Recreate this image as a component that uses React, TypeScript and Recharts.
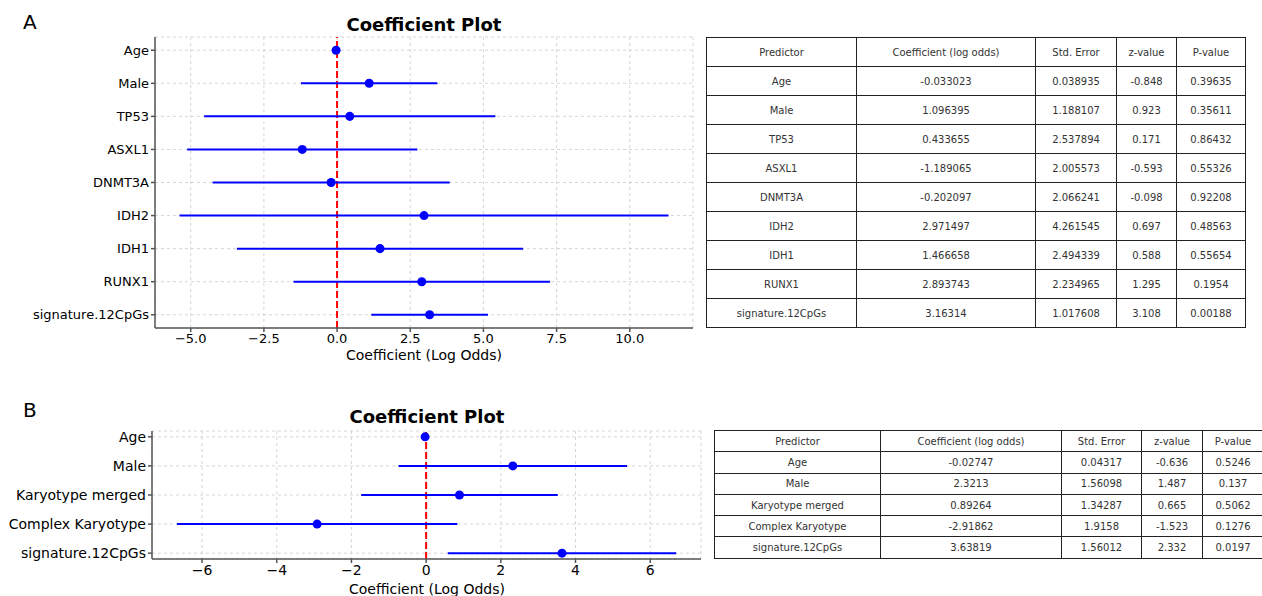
import React from 'react';
import { ScatterChart, Scatter, XAxis, YAxis, CartesianGrid, ReferenceLine, ErrorBar } from 'recharts';

// Panel A: full model
const predictorsA = ['Age', 'Male', 'TP53', 'ASXL1', 'DNMT3A', 'IDH2', 'IDH1', 'RUNX1', 'signature.12CpGs'];
const coefA = [-0.033023, 1.096395, 0.433655, -1.189065, -0.202097, 2.971497, 1.466658, 2.893743, 3.16314];
const lowA = [-0.109, -1.232, -4.541, -5.12, -4.252, -5.381, -3.422, -1.487, 1.169];
const highA = [0.043, 3.425, 5.408, 2.742, 3.848, 11.324, 6.356, 7.274, 5.158];
const coefTextA = ['-0.033023', '1.096395', '0.433655', '-1.189065', '-0.202097', '2.971497', '1.466658', '2.893743', '3.16314'];
const seTextA = ['0.038935', '1.188107', '2.537894', '2.005573', '2.066241', '4.261545', '2.494339', '2.234965', '1.017608'];
const zTextA = ['-0.848', '0.923', '0.171', '-0.593', '-0.098', '0.697', '0.588', '1.295', '3.108'];
const pTextA = ['0.39635', '0.35611', '0.86432', '0.55326', '0.92208', '0.48563', '0.55654', '0.1954', '0.00188'];
const ticksA = [-5, -2.5, 0, 2.5, 5, 7.5, 10];

// Panel B: reduced model
const predictorsB = ['Age', 'Male', 'Karyotype merged', 'Complex Karyotype', 'signature.12CpGs'];
const coefB = [-0.02747, 2.3213, 0.89264, -2.91862, 3.63819];
const lowB = [-0.112, -0.738, -1.739, -6.674, 0.58];
const highB = [0.057, 5.381, 3.525, 0.836, 6.696];
const coefTextB = ['-0.02747', '2.3213', '0.89264', '-2.91862', '3.63819'];
const seTextB = ['0.04317', '1.56098', '1.34287', '1.9158', '1.56012'];
const zTextB = ['-0.636', '1.487', '0.665', '-1.523', '2.332'];
const pTextB = ['0.5246', '0.137', '0.5062', '0.1276', '0.0197'];
const ticksB = [-6, -4, -2, 0, 2, 4, 6];

const tableHeaders = ['Predictor', 'Coefficient (log odds)', 'Std. Error', 'z-value', 'P-value'];

const FONT = "'DejaVu Sans', sans-serif";
const BLUE = '#0000ff';
const SPINE = '#555555';

const minus = (s: string) => s.replace('-', '\u2212');

type PlotProps = {
  names: string[];
  coef: number[];
  low: number[];
  high: number[];
  ticks: number[];
  domain: [number, number];
  yPad: number;
  fmt: (v: number) => string;
  width: number;
  height: number;
  margin: { top: number; right: number; left: number; bottom: number };
  xAxisHeight: number;
  fontSize: number;
};

const CoefPlot: React.FC<PlotProps> = ({ names, coef, low, high, ticks, domain, yPad, fmt, width, height, margin, xAxisHeight, fontSize }) => {
  const data = names.map((name, i) => ({
    name,
    idx: i,
    coef: coef[i],
    err: [coef[i] - low[i], high[i] - coef[i]],
  }));
  const n = names.length;
  const tickStyle = { fill: '#000', fontSize, fontFamily: FONT };
  return (
    <ScatterChart width={width} height={height} margin={margin}>
      <CartesianGrid stroke="#cccccc" strokeDasharray="3 3" strokeWidth={0.8} />
      <XAxis
        type="number"
        dataKey="coef"
        domain={domain}
        ticks={ticks}
        allowDataOverflow
        tickFormatter={(v: number) => minus(fmt(v))}
        tick={tickStyle}
        height={xAxisHeight}
        stroke={SPINE}
        strokeWidth={1.5}
        tickSize={4}
        tickMargin={2}
        interval={0}
      />
      <YAxis
        type="number"
        dataKey="idx"
        domain={[-yPad, n - 1 + yPad]}
        ticks={names.map((_, i) => i)}
        reversed
        allowDataOverflow
        tickFormatter={(v: number) => names[v] ?? ''}
        tick={tickStyle}
        width={150}
        stroke={SPINE}
        strokeWidth={1.5}
        tickSize={4}
        tickMargin={2}
        interval={0}
      />
      <ReferenceLine x={0} stroke="#ff0000" strokeWidth={2} strokeDasharray="7 3" />
      <Scatter data={data} fill={BLUE} isAnimationActive={false} shape="circle">
        <ErrorBar dataKey="err" direction="x" width={0} stroke={BLUE} strokeWidth={2} />
      </Scatter>
    </ScatterChart>
  );
};

type TableProps = {
  names: string[];
  coef: string[];
  se: string[];
  z: string[];
  p: string[];
  colWidths: number[];
  rowHeight: number;
  left: number;
  top: number;
};

const StatsTable: React.FC<TableProps> = ({ names, coef, se, z, p, colWidths, rowHeight, left, top }) => {
  const cell: React.CSSProperties = {
    border: '1.5px solid #222',
    height: rowHeight,
    padding: 0,
    textAlign: 'center',
    fontFamily: FONT,
    fontSize: 10,
    color: '#333',
    boxSizing: 'border-box',
  };
  const rows = names.map((name, i) => [name, coef[i], se[i], z[i], p[i]]);
  return (
    <table
      style={{
        position: 'absolute',
        left,
        top,
        borderCollapse: 'collapse',
        tableLayout: 'fixed',
        width: colWidths.reduce((a, b) => a + b, 0),
      }}
    >
      <colgroup>
        {colWidths.map((w, i) => (
          <col key={i} style={{ width: w }} />
        ))}
      </colgroup>
      <tbody>
        <tr>
          {tableHeaders.map((h) => (
            <td key={h} style={cell}>{h}</td>
          ))}
        </tr>
        {rows.map((r, i) => (
          <tr key={i}>
            {r.map((v, j) => (
              <td key={j} style={cell}>{v}</td>
            ))}
          </tr>
        ))}
      </tbody>
    </table>
  );
};

const textAbs = (left: number, top: number, size: number, bold = false): React.CSSProperties => ({
  position: 'absolute',
  left,
  top,
  fontSize: size,
  lineHeight: `${size}px`,
  fontWeight: bold ? 'bold' : 'normal',
  fontFamily: FONT,
  whiteSpace: 'nowrap',
  color: '#000',
});

const centered = (cx: number, top: number, size: number, bold = false): React.CSSProperties => ({
  ...textAbs(cx - 200, top, size, bold),
  width: 400,
  textAlign: 'center',
});

const App: React.FC = () => {
  return (
    <div style={{ position: 'absolute', left: 0, top: 0, width: 1262, height: 596, background: '#fff', overflow: 'hidden' }}>
      <div style={textAbs(23, 12, 20)}>A</div>
      <div style={centered(424, 16, 18, true)}>Coefficient Plot</div>
      <div style={{ position: 'absolute', left: 0, top: 0 }}>
        <CoefPlot
          names={predictorsA}
          coef={coefA}
          low={lowA}
          high={highA}
          ticks={ticksA}
          domain={[-6.22, 12.16]}
          yPad={0.4}
          fmt={(v) => v.toFixed(1)}
          width={700}
          height={370}
          margin={{ top: 37, right: 7, left: 5, bottom: 0 }}
          xAxisHeight={42}
          fontSize={13}
        />
      </div>
      <div style={centered(424, 348, 14)}>Coefficient (Log Odds)</div>
      <StatsTable
        names={predictorsA}
        coef={coefTextA}
        se={seTextA}
        z={zTextA}
        p={pTextA}
        colWidths={[150, 179, 81, 60, 69]}
        rowHeight={29}
        left={706}
        top={37}
      />

      <div style={textAbs(23, 400, 20)}>B</div>
      <div style={centered(427, 408, 18, true)}>Coefficient Plot</div>
      <div style={{ position: 'absolute', left: 0, top: 390 }}>
        <CoefPlot
          names={predictorsB}
          coef={coefB}
          low={lowB}
          high={highB}
          ticks={ticksB}
          domain={[-7.34, 7.36]}
          yPad={0.2}
          fmt={(v) => String(v)}
          width={710}
          height={206}
          margin={{ top: 41, right: 9, left: 2, bottom: 0 }}
          xAxisHeight={37}
          fontSize={14}
        />
      </div>
      <div style={centered(427, 582, 14)}>Coefficient (Log Odds)</div>
      <StatsTable
        names={predictorsB}
        coef={coefTextB}
        se={seTextB}
        z={zTextB}
        p={pTextB}
        colWidths={[166, 181, 80, 61, 61]}
        rowHeight={21.3}
        left={714}
        top={430}
      />
    </div>
  );
};

export default App;
